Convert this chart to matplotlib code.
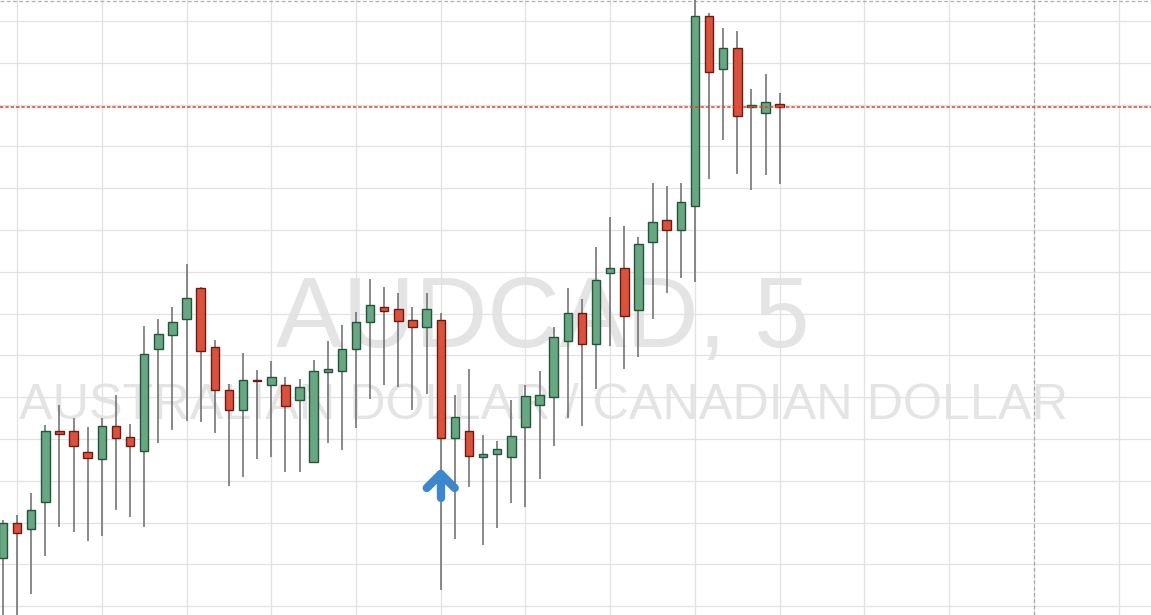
import matplotlib
matplotlib.use("Agg")
import matplotlib.pyplot as plt
import numpy as np

# ---- data (AUDCAD, M5) ----
opens = [0.93557, 0.93600, 0.93592, 0.93624, 0.93709, 0.93710, 0.93684, 0.93676, 0.93716, 0.93702,
         0.93685, 0.93808, 0.93824, 0.93843, 0.93881, 0.93810, 0.93758, 0.93735, 0.93771, 0.93764,
         0.93765, 0.93747, 0.93672, 0.93780, 0.93781, 0.93807, 0.93840, 0.93858, 0.93855, 0.93842,
         0.93834, 0.93842, 0.93701, 0.93709, 0.93678, 0.93682, 0.93678, 0.93714, 0.93741, 0.93750,
         0.93817, 0.93851, 0.93813, 0.93899, 0.93905, 0.93854, 0.93935, 0.93962, 0.93950, 0.93978,
         0.94206, 0.94142, 0.94168, 0.94097, 0.94090, 0.94101]
highs = [0.93603, 0.93609, 0.93635, 0.93717, 0.93741, 0.93725, 0.93714, 0.93725, 0.93753, 0.93718,
         0.93835, 0.93843, 0.93858, 0.93909, 0.93882, 0.93818, 0.93766, 0.93803, 0.93782, 0.93793,
         0.93774, 0.93772, 0.93794, 0.93817, 0.93836, 0.93852, 0.93891, 0.93882, 0.93875, 0.93858,
         0.93875, 0.93851, 0.93753, 0.93784, 0.93705, 0.93697, 0.93746, 0.93764, 0.93781, 0.93834,
         0.93881, 0.93867, 0.93930, 0.93965, 0.93955, 0.93942, 0.94006, 0.94003, 0.94006, 0.94228,
         0.94210, 0.94192, 0.94188, 0.94119, 0.94137, 0.94114]
lows = [0.93460, 0.93460, 0.93514, 0.93560, 0.93595, 0.93589, 0.93578, 0.93584, 0.93615, 0.93607,
        0.93595, 0.93695, 0.93711, 0.93722, 0.93720, 0.93707, 0.93644, 0.93655, 0.93676, 0.93678,
        0.93661, 0.93661, 0.93672, 0.93695, 0.93687, 0.93713, 0.93748, 0.93765, 0.93762, 0.93734,
        0.93754, 0.93519, 0.93580, 0.93643, 0.93573, 0.93593, 0.93623, 0.93619, 0.93652, 0.93692,
        0.93725, 0.93716, 0.93760, 0.93811, 0.93784, 0.93798, 0.93843, 0.93874, 0.93892, 0.93888,
        0.94011, 0.94057, 0.94017, 0.93998, 0.94016, 0.94005]
closes = [0.93600, 0.93588, 0.93615, 0.93710, 0.93706, 0.93692, 0.93677, 0.93716, 0.93701, 0.93692,
          0.93801, 0.93825, 0.93840, 0.93869, 0.93805, 0.93759, 0.93734, 0.93771, 0.93769, 0.93774,
          0.93739, 0.93762, 0.93781, 0.93784, 0.93807, 0.93840, 0.93860, 0.93853, 0.93841, 0.93834,
          0.93855, 0.93701, 0.93726, 0.93679, 0.93682, 0.93688, 0.93704, 0.93751, 0.93753, 0.93822,
          0.93850, 0.93813, 0.93890, 0.93905, 0.93847, 0.93933, 0.93959, 0.93950, 0.93983, 0.94206,
          0.94139, 0.94168, 0.94086, 0.94100, 0.94103, 0.94097]
signal_bar = 31            # bar marked with the blue arrow
signal_price = 0.93658     # arrow tip level
separator_bar = 73         # dashed period separator
grid_levels = [0.9350 + 0.0005 * k for k in range(15)]
grid_bars = [1 + 6 * k for k in range(14)]
title_line1 = "AUDCAD, 5"
title_line2 = "AUSTRALIAN DOLLAR / CANADIAN DOLLAR"

# ---- figure ----
W, H = 1151, 615
fig = plt.figure(figsize=(W / 100, H / 100), dpi=100)
ax = fig.add_axes([0, 0, 1, 1])
ymax = 0.94225
ymin = ymax - H / 83600
ax.set_xlim(-0.2125, 81.30)
ax.set_ylim(ymin, ymax)
for s in ax.spines.values():
    s.set_visible(False)
ax.set_xticks([])
ax.set_yticks([])

# watermark
ax.text(0.4718, 1 - 347 / H, title_line1, transform=ax.transAxes, ha="center", va="baseline",
        fontsize=72, color="#e4e4e4", family="Liberation Sans", zorder=0)
ax.text(0.4726, 1 - 419 / H, title_line2, transform=ax.transAxes, ha="center", va="baseline",
        fontsize=36.3, color="#e4e4e4", family="Liberation Sans", zorder=0)

# grid
for g in grid_levels:
    ax.axhline(g, color="#e2e2e2", lw=0.9, zorder=1)
for b in grid_bars:
    ax.axvline(b, color="#e2e2e2", lw=0.9, zorder=1)
ax.axvline(separator_bar, color="#a8a8a8", lw=0.9, ls=(0, (3, 2)), zorder=1.5)
ax.axhline(ymax - 1.2 / 83600, color="#b0b0b0", lw=0.9, ls=(0, (3, 2)), zorder=1.5)

# candles
o = np.array(opens); c = np.array(closes); h = np.array(highs); l = np.array(lows)
x = np.arange(len(o))
up = c >= o
ax.vlines(x, l, h, color="#6a6a6a", lw=1.1, zorder=2)
body_h = np.where(np.abs(c - o) < 0.000012, 0.000012 * np.sign(c - o + 1e-12), c - o)
ax.bar(x[up], body_h[up], bottom=o[up], width=0.6, color="#68a781", edgecolor="#24553a",
       linewidth=1.0, zorder=3)
ax.bar(x[~up], body_h[~up], bottom=o[~up], width=0.6, color="#d9523d", edgecolor="#6e1a10",
       linewidth=1.0, zorder=3)

# current price line
ax.axhline(closes[-1], color="#ee3b2b", lw=1.1, ls=(0, (2.2, 1.3)), zorder=4)

# blue arrow (in pixel offsets around the signal bar)
px_x = 1 / 14.12
px_y = 1 / 83600
ax.plot([signal_bar - 14 * px_x, signal_bar, signal_bar + 14 * px_x],
        [signal_price - 14 * px_y, signal_price, signal_price - 14 * px_y],
        color="#3c87cd", lw=6.0, solid_capstyle="round", solid_joinstyle="round", zorder=5)
ax.plot([signal_bar, signal_bar], [signal_price, signal_price - 24 * px_y],
        color="#3c87cd", lw=6.0, solid_capstyle="round", zorder=5)

fig.savefig("out.png", dpi=100)
